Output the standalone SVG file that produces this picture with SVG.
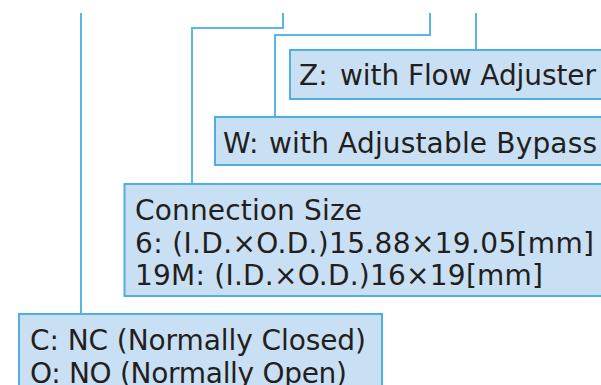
<svg xmlns="http://www.w3.org/2000/svg" width="601" height="385" viewBox="0 0 601 385">
<style>
.box{fill:#c9e0f4;stroke:#4fb0e0;stroke-width:2}
.ln{fill:none;stroke:#5ab6e4;stroke-width:2}
.t{font-family:"DejaVu Sans","Noto Sans",sans-serif;font-size:28px;fill:#231f20}
</style>
<rect width="601" height="385" fill="#ffffff"/>
<g id="connectors">
<path class="ln" d="M81,13 V314"/>
<path class="ln" d="M283,13 V28 H192 V184"/>
<path class="ln" d="M430,13 V35 H275 V117"/>
<path class="ln" d="M476,13 V50"/>
</g>
<g id="node-z">
<rect class="box" x="290" y="50" width="330" height="49"/>
<text class="t" y="85"><tspan x="299">Z:</tspan><tspan x="340" textLength="256">with Flow Adjuster</tspan></text>
</g>
<g id="node-w">
<rect class="box" x="215" y="117" width="405" height="48"/>
<text class="t" y="153"><tspan x="223">W:</tspan><tspan x="269" textLength="328">with Adjustable Bypass</tspan></text>
</g>
<g id="node-size">
<rect class="box" x="124.5" y="184" width="495" height="112"/>
<text class="t" x="135" y="220" textLength="227">Connection Size</text>
<text class="t" x="135" y="253" textLength="459">6: (I.D.×O.D.)15.88×19.05[mm]</text>
<text class="t" x="135" y="284.5" textLength="408">19M: (I.D.×O.D.)16×19[mm]</text>
</g>
<g id="node-c">
<rect class="box" x="19" y="314" width="363" height="90"/>
<text class="t" x="30" y="350" textLength="336">C: NC (Normally Closed)</text>
<text class="t" x="30" y="383" textLength="317">O: NO (Normally Open)</text>
</g>
</svg>
